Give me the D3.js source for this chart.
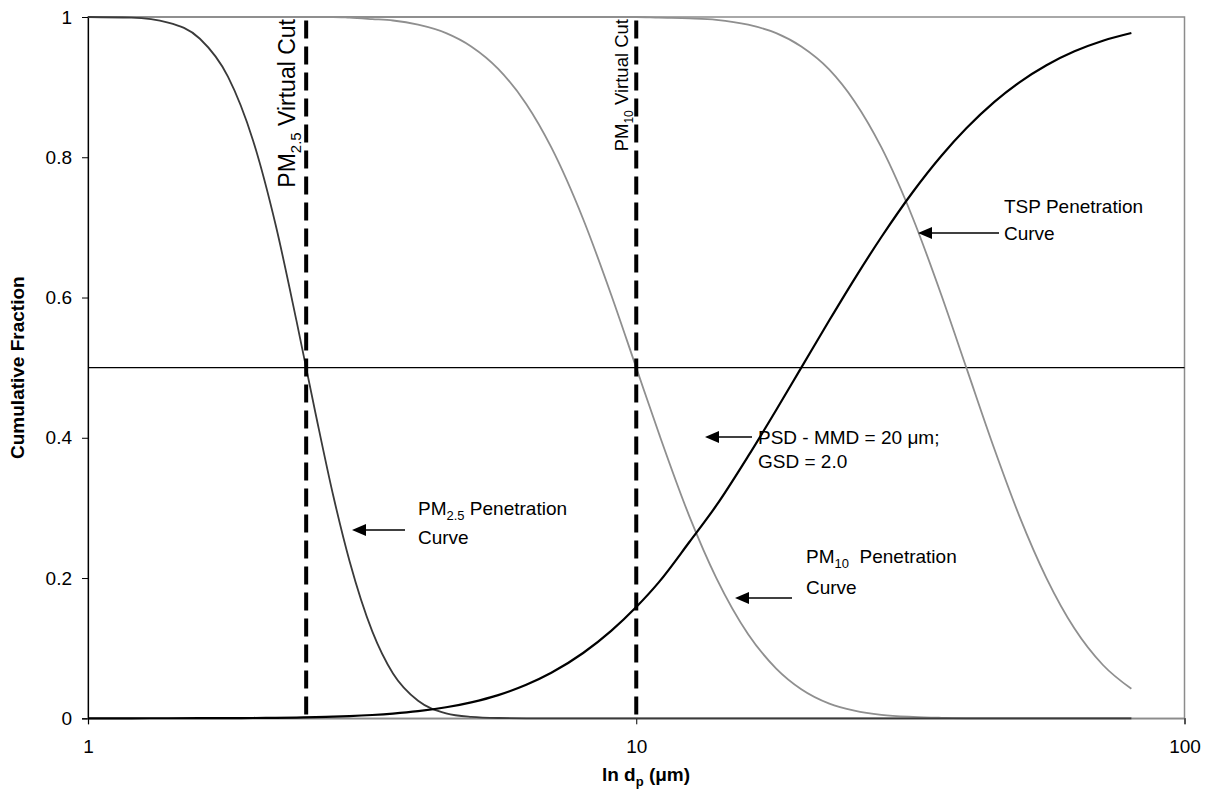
<!DOCTYPE html>
<html><head><meta charset="utf-8">
<script src="https://cdn.jsdelivr.net/npm/d3@7"></script>
<style>body{margin:0;background:#fff}text{font-family:"Liberation Sans",Arial,sans-serif}</style>
</head><body><svg id="c" width="1209" height="805"></svg>
<script>
const diameters = [1,1.2,1.4,1.6,1.8,2,2.2,2.4,2.6,2.8,3,3.3,3.6,4,4.5,5,5.6,6.3,7,8,9,10,11,12.5,14,16,18,20,22.5,25,28,32,36,40,45,50,56,63,71,80];
const pm25Pen = [1,0.999,0.992,0.969,0.915,0.824,0.703,0.567,0.435,0.318,0.224,0.124,0.064,0.025,0.007,0.002,0.0004,0,0,0,0,0,0,0,0,0,0,0,0,0,0,0,0,0,0,0,0,0,0,0];
const pm10Pen = [1,1,1,1,1,1,1,1,1,1,0.999,0.997,0.995,0.989,0.977,0.958,0.926,0.876,0.814,0.712,0.604,0.5,0.406,0.288,0.2,0.12,0.071,0.0415,0.021,0.011,0.005,0.002,0.0007,0,0,0,0,0,0,0];
const tspPen = [1,1,1,1,1,1,1,1,1,1,1,1,1,1,1,1,1,1,1,1,1,1,0.999,0.998,0.996,0.989,0.977,0.958,0.925,0.88,0.814,0.712,0.604,0.5,0.384,0.288,0.2,0.128,0.076,0.042];
const psdCum = [0,0.00002,0.00006,0.00013,0.00026,0.00045,0.0007,0.0011,0.0016,0.0023,0.0031,0.0047,0.0067,0.0101,0.0157,0.0228,0.0331,0.0478,0.0649,0.0931,0.1247,0.1587,0.1942,0.2514,0.3035,0.3738,0.4396,0.5,0.5675,0.6263,0.6863,0.7512,0.8018,0.8413,0.879,0.9069,0.9313,0.9511,0.9662,0.9772];
const cutPoints = [2.5, 10];
const xTicks = [1, 10, 100];
const yTicks = [0, 0.2, 0.4, 0.6, 0.8, 1];
const midLine = 0.5;

const svg = d3.select("#c");
const L = 88, R = 1184.5, T = 17, B = 718.3;
const x = d3.scaleLog().domain([1, 100]).range([L, R]);
const y = d3.scaleLinear().domain([0, 1]).range([B, T]);

svg.append("rect").attr("x", L).attr("y", T).attr("width", R - L).attr("height", B - T)
  .attr("fill", "none").attr("stroke", "#8c8c8c").attr("stroke-width", 1.5);

const yAxis = svg.append("g").attr("transform", `translate(${L},0)`)
  .call(d3.axisLeft(y).tickValues(yTicks).tickFormat(d3.format("")).tickSize(6).tickPadding(10));
const xAxis = svg.append("g").attr("transform", `translate(0,${B})`)
  .call(d3.axisBottom(x).tickValues(xTicks).tickFormat(d3.format("")).tickSize(6).tickPadding(15));
[yAxis, xAxis].forEach(g => {
  g.selectAll("text").attr("font-size", 19).attr("fill", "#000").attr("font-family", "Liberation Sans, Arial, sans-serif");
  g.selectAll("line").attr("stroke", "#000");
});
yAxis.select(".domain").attr("stroke", "#000").attr("stroke-width", 1.2);
xAxis.select(".domain").attr("stroke", "#8c8c8c").attr("stroke-width", 1.5);

svg.append("line").attr("x1", L).attr("x2", R).attr("y1", y(midLine)).attr("y2", y(midLine))
  .attr("stroke", "#000").attr("stroke-width", 1.2);

const line = vals => d3.line().x((d, i) => x(diameters[i])).y(d => y(d)).curve(d3.curveMonotoneX)(vals);
svg.append("path").attr("d", line(pm10Pen)).attr("fill", "none").attr("stroke", "#8f8f8f").attr("stroke-width", 1.8);
svg.append("path").attr("d", line(tspPen)).attr("fill", "none").attr("stroke", "#8f8f8f").attr("stroke-width", 1.8);
svg.append("path").attr("d", line(pm25Pen)).attr("fill", "none").attr("stroke", "#3a3a3a").attr("stroke-width", 1.8);
svg.append("path").attr("d", line(psdCum)).attr("fill", "none").attr("stroke", "#000").attr("stroke-width", 2.2);

cutPoints.forEach(c => {
  svg.append("line").attr("x1", x(c)).attr("x2", x(c)).attr("y1", y(0.995)).attr("y2", B)
    .attr("stroke", "#000").attr("stroke-width", 4).attr("stroke-dasharray", "18,8");
});

function vlabel(xp, yp, main, sub, rest, fs) {
  const t = svg.append("text").attr("transform", `translate(${xp},${yp}) rotate(-90)`)
    .attr("text-anchor", "end").attr("font-size", fs);
  t.append("tspan").text(main);
  t.append("tspan").text(sub).attr("font-size", fs * 0.65).attr("dy", fs * 0.25);
  t.append("tspan").text(rest).attr("dy", -fs * 0.25);
}
vlabel(x(2.5) - 11, 19, "PM", "2.5", " Virtual Cut", 23);
vlabel(x(10) - 8, 19, "PM", "10", " Virtual Cut", 18.5);

function arrow(x1, x2, yy) {
  svg.append("line").attr("x1", x1).attr("x2", x2 + 12).attr("y1", yy).attr("y2", yy).attr("stroke", "#000").attr("stroke-width", 1.3);
  svg.append("path").attr("d", `M${x2},${yy} L${x2 + 14},${yy - 6} L${x2 + 14},${yy + 6} Z`).attr("fill", "#000");
}
function label(xp, yp, parts) {
  const t = svg.append("text").attr("x", xp).attr("y", yp).attr("font-size", 19).style("white-space", "pre");
  parts.forEach(p => {
    const s = t.append("tspan").text(p[0]);
    if (p[1] === "sub") s.attr("font-size", 13).attr("dy", 5);
    if (p[1] === "up") s.attr("dy", -5);
  });
  return t;
}
label(1004, 213, [["TSP Penetration"]]);
label(1004, 240, [["Curve"]]);
arrow(999, 918, 233);

label(758, 444, [["PSD - MMD = 20 \u03bcm;"]]);
label(758, 468, [["GSD = 2.0"]]);
arrow(752, 705, 437);

label(418, 515, [["PM"], ["2.5", "sub"], [" Penetration", "up"]]);
label(418, 544, [["Curve"]]);
arrow(405, 352, 530);

label(806, 563, [["PM"], ["10", "sub"], ["\u00a0 Penetration", "up"]]);
label(806, 594, [["Curve"]]);
arrow(792, 735, 598);

svg.append("text").attr("transform", `translate(24,${(T + B) / 2}) rotate(-90)`).attr("text-anchor", "middle")
  .attr("font-size", 19).attr("font-weight", "bold").text("Cumulative Fraction");
const xt = svg.append("text").attr("x", 646).attr("y", 781).attr("text-anchor", "middle").attr("font-size", 19).attr("font-weight", "bold");
xt.append("tspan").text("ln d");
xt.append("tspan").text("p").attr("font-size", 13).attr("dy", 5);
xt.append("tspan").text(" (\u03bcm)").attr("dy", -5);
</script></body></html>
